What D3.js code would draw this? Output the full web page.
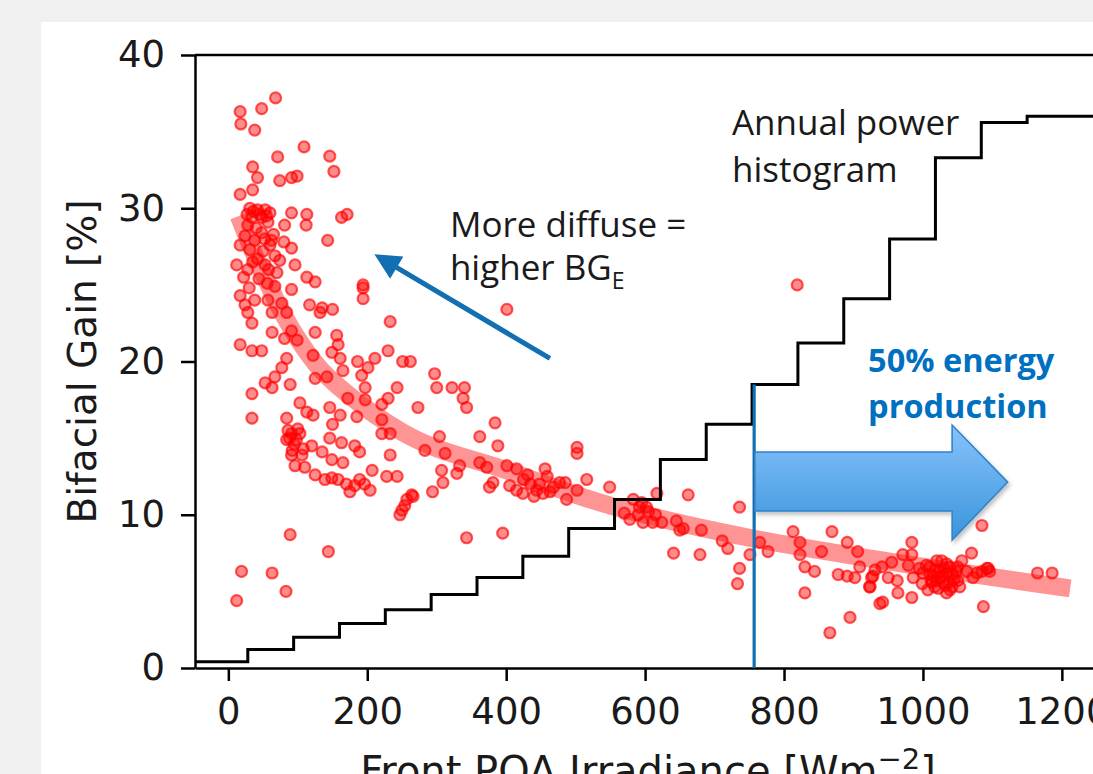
<!DOCTYPE html>
<html><head><meta charset="utf-8">
<script src="https://cdn.jsdelivr.net/npm/d3@7"></script>
<style>body{margin:0;background:#f0f0f0;}svg{display:block;}</style>
</head><body>
<svg id="chart" width="1093" height="774"></svg>
<script>
// ---------------- DATA ----------------
const xTicks = [0, 200, 400, 600, 800, 1000, 1200];
const yTicks = [0, 10, 20, 30, 40];

// Scatter: [front POA irradiance (W/m2), bifacial gain (%)]
const scatterPoints = [
 [17,36.3],[48,36.5],[68,37.2],[18,35.5],[38,35.1],[109,34.0],[146,33.4],[71,33.35],[35,32.7],[152,32.4],[42,32.0],[74,31.8],[91,32.0],[99,32.1],[17,30.9],[35,31.2],
 [31,30.0],[42,29.9],[53,29.9],[60,29.7],[34,29.4],[48,29.4],[28,28.9],[57,29.1],[36,29.8],[45,29.6],[55,29.5],
 [91,29.7],[113,29.6],[81,28.9],[112,28.9],[163,29.4],[171,29.6],[143,27.9],[91,27.4],[12,26.3],[28,26.0],[53,26.3],[96,26.3],[113,25.5],[125,25.2],[194,25.0],
 [24,28.2],[38,27.9],[48,28.4],[31,27.3],[42,26.7],[60,27.6],[67,26.9],[17,27.6],[74,26.6],[52,28.0],[65,28.3],[35,26.5],[22,25.5],[80,27.8],[58,26.0],
 [27,29.6],[40,28.7],[50,27.2],[44,25.4],[30,24.8],[56,25.1],[38,24.0],[70,25.8],[62,27.9],
 [17,24.3],[24,23.7],[28,23.2],[34,22.5],[57,24.0],[67,24.9],[77,23.8],[84,23.2],[91,24.7],[63,23.2],[117,23.7],[135,23.5],[150,23.4],[132,23.2],[194,24.8],[194,24.1],[233,22.6],[63,21.9],[91,22.0],[99,21.4],[81,21.5],[125,21.9],[156,21.7],[158,21.1],[149,20.6],[17,21.1],[34,20.7],[48,20.7],[84,20.2],[122,20.4],[161,20.2],[186,20.0],[211,20.2],[230,20.7],[251,20.0],[77,19.6],[67,19.0],[53,18.6],[63,18.3],[34,17.9],[89,18.5],[125,18.9],[142,19.0],[165,19.4],[192,19.1],[201,19.6],[197,18.3],[243,18.3],[172,17.6],[197,17.5],[221,17.2],[230,17.6],[146,17.0],[161,16.5],[103,17.3],[113,16.7],[122,16.5],[84,16.3],[34,16.3],[185,16.4],[221,16.2],[150,15.9],[91,15.3],[103,15.3],[84,14.9],[221,15.3],[233,15.3],[146,15.0],[120,14.5],[163,14.7],[182,14.5],[189,14.1],[91,13.9],[106,13.9],[135,14.1],[149,13.6],[165,13.4],[233,13.9],[96,13.2],[110,13.1],[125,12.6],[139,12.3],[149,12.4],[158,12.3],[175,11.5],[189,12.3],[207,12.9],[204,11.6],[228,12.5],[243,12.5],[250,10.3],[257,11.0],[264,11.3],
 [88,15.0],[95,14.6],[100,15.6],[92,14.2],[98,14.9],[86,15.5],[108,14.3],[170,12.0],[182,11.9],[196,12.0],
 [401,23.4],[297,19.2],[300,18.3],[322,18.3],[340,18.3],[338,17.6],[343,17.0],[273,17.0],[384,16.0],[362,15.1],[388,14.5],[304,15.1],[283,14.2],[312,14.0],[333,13.2],[307,12.9],[329,12.7],[362,13.4],[372,13.1],[401,13.2],[415,13.0],[431,12.6],[456,13.0],[459,12.5],[502,14.4],[502,14.0],[485,12.1],[516,12.3],[549,11.8],[381,12.1],[376,11.8],[424,11.4],[444,11.6],[453,11.4],[463,11.5],[477,12.1],[487,11.0],[502,11.6],[309,12.1],[294,11.5],[266,11.2],[343,8.5],[395,8.8],[578,9.7],[592,10.5],[597,9.5],[262,20.0],
 [583,11.0],[595,10.8],[605,10.2],[570,10.1],[615,10.0],[611,9.5],[624,9.5],[617,11.4],[602,10.5],[590,10.0],
 [405,11.9],[415,11.6],[435,12.0],[440,11.2],[448,12.0],[468,11.8],[425,12.3],
 [662,11.3],[650,9.0],[681,9.0],[641,7.5],[679,7.4],[736,10.5],[711,8.3],[719,7.8],[751,7.4],[736,6.5],[733,5.5],[765,8.2],[777,7.6],[813,8.9],[823,8.2],[823,7.4],[830,6.6],[844,6.3],[854,7.6],[869,8.9],[891,8.2],[906,7.6],[909,6.6],[878,6.1],[891,6.0],[902,5.9],[924,5.3],[830,4.9],[895,3.3],[866,2.3],[938,4.2],[928,6.0],[655,9.1],[645,9.6],
 [1085,9.3],[984,8.2],[1070,7.5],[923,5.3],[942,4.3],[984,4.6],[1087,4.0],[1165,6.2],[1186,6.2],[1094,6.5],[1085,6.3],[941,6.6],[955,6.9],[971,7.4],[979,6.7],[963,5.7],[950,5.9],[986,5.9],[995,6.5],[1005,6.7],[1010,6.1],[1017,5.3],[1024,6.3],[1029,5.6],[1034,6.8],[1039,5.1],[1034,4.9],[1043,6.1],[1050,6.6],[1056,7.0],[999,5.5],[1007,5.1],[1020,7.0],[1027,7.0],[1039,6.6],[1063,6.3],[1072,5.9],[1078,6.2],[1092,6.5],[1096,6.3],[1020,5.7],[1013,5.7],[1032,5.4],[964,4.9],[926,5.9],[931,6.4],[984,7.4],[1050,5.7],[1053,5.3],[1000,6.2],[1015,6.0],[1025,5.9],[1035,6.2],[1045,5.8],[1030,6.5],[1010,6.6],
 [1018,6.4],[1028,6.0],[1038,5.6],[1022,5.2],[1042,5.3],[1012,5.6],[1048,6.3],
 [89,8.7],[144,7.6],[19,6.3],[63,6.2],[83,5.0],[12,4.4],[247,10.0],[254,10.6],
 [819,25.0]
];

// Fitted trend (thick translucent band)
const fitIrradiance = [15, 42, 60, 80, 125, 182, 250, 400, 550, 600, 750, 930, 1212];
const fitGain       = [29.5, 26.5, 24.8, 23.0, 19.9, 17.5, 15.4, 12.9, 10.6, 10.0, 8.5, 7.1, 5.2];

// Annual power histogram (cumulative step), bin edges and levels on the same y scale
const histEdges  = [-48, 28, 94, 160, 226, 292, 358, 424, 490, 556, 622, 688, 754, 820, 886, 952, 1018, 1084, 1150, 1255];
const histLevels = [0.4, 1.2, 2.0, 2.9, 3.8, 4.8, 5.9, 7.3, 9.1, 11.0, 13.6, 15.9, 18.5, 21.2, 24.1, 28.0, 33.3, 35.6, 36.0];

// 50 % energy production marker
const halfEnergyX = 757;
const halfEnergyTop = 18.5;

// ---------------- LAYOUT ----------------
const W = 1093, H = 774;
const svg = d3.select("#chart");
svg.append("rect").attr("width", W).attr("height", H).attr("fill", "#f0f0f0");
svg.append("rect").attr("x", 41).attr("y", 22).attr("width", W - 41).attr("height", H - 22).attr("fill", "#ffffff");

const x = d3.scaleLinear().domain([-48, 1255]).range([195, 195 + 1303 * 0.6946]);
const y = d3.scaleLinear().domain([0, 40]).range([668, 55]);

const defs = svg.append("defs");
const grad = defs.append("linearGradient").attr("id", "arrowGrad").attr("x1", 0).attr("y1", 0).attr("x2", 0).attr("y2", 1);
grad.append("stop").attr("offset", "0%").attr("stop-color", "#86c3fb");
grad.append("stop").attr("offset", "100%").attr("stop-color", "#3a94dc");
const shadow = defs.append("filter").attr("id", "shadow").attr("x", "-10%").attr("y", "-10%").attr("width", "130%").attr("height", "130%");
shadow.append("feDropShadow").attr("dx", 2).attr("dy", 3).attr("stdDeviation", 2).attr("flood-color", "#000").attr("flood-opacity", 0.25);
defs.append("marker").attr("id", "blueHead").attr("viewBox", "0 0 10 10").attr("refX", 2).attr("refY", 5)
  .attr("markerWidth", 5.5).attr("markerHeight", 5.2).attr("markerUnits", "strokeWidth").attr("orient", "auto-start-reverse")
  .append("path").attr("d", "M0,0 L10,5 L0,10 Z").attr("fill", "#126fb2");

// fit band
const fitData = fitIrradiance.map((v, i) => [v, fitGain[i]]);
svg.append("path").datum(fitData)
  .attr("d", d3.line().x(d => x(d[0])).y(d => y(d[1])).curve(d3.curveMonotoneX))
  .attr("fill", "none").attr("stroke", "#ff0000").attr("stroke-opacity", 0.42).attr("stroke-width", 18);

// scatter
svg.append("g").selectAll("circle").data(scatterPoints).join("circle")
  .attr("cx", d => x(d[0])).attr("cy", d => y(d[1])).attr("r", 5.5)
  .attr("fill", "#ff0000").attr("fill-opacity", 0.45)
  .attr("stroke", "#ff0000").attr("stroke-opacity", 0.65).attr("stroke-width", 2.2);

// histogram step
const stepPts = [];
histLevels.forEach((lv, i) => { stepPts.push([histEdges[i], lv]); stepPts.push([histEdges[i + 1], lv]); });
svg.append("path").datum(stepPts)
  .attr("d", d3.line().x(d => x(d[0])).y(d => y(d[1])))
  .attr("fill", "none").attr("stroke", "#000").attr("stroke-width", 3).attr("stroke-linejoin", "miter");

// axes
const axisFont = "DejaVu Sans, sans-serif";
const gx = svg.append("g").attr("transform", `translate(0,${y(0)})`)
  .call(d3.axisBottom(x).tickValues(xTicks).tickFormat(d3.format("d")).tickSize(13).tickSizeOuter(0).tickPadding(17));
const gy = svg.append("g").attr("transform", `translate(${x(-48)},0)`)
  .call(d3.axisLeft(y).tickValues(yTicks).tickFormat(d3.format("d")).tickSize(14).tickSizeOuter(0).tickPadding(16));
[gx, gy].forEach(g => {
  g.select(".domain").attr("stroke", "#000").attr("stroke-width", 2.5);
  g.selectAll(".tick line").attr("stroke", "#000").attr("stroke-width", 2.5);
  g.selectAll(".tick text").attr("font-family", axisFont).attr("font-size", 37).attr("fill", "#1a1a1a");
});
svg.append("line").attr("x1", x(-48)).attr("x2", x(1255)).attr("y1", y(40)).attr("y2", y(40)).attr("stroke", "#000").attr("stroke-width", 2.5);

// axis titles
svg.append("text").attr("transform", `translate(96,${(y(0) + y(40)) / 2}) rotate(-90)`)
  .attr("text-anchor", "middle").attr("font-family", axisFont).attr("font-size", 39).attr("fill", "#1a1a1a")
  .text("Bifacial Gain [%]");
const xl = svg.append("text").attr("x", 648).attr("y", 785).attr("text-anchor", "middle")
  .attr("font-family", axisFont).attr("font-size", 40).attr("fill", "#1a1a1a");
xl.append("tspan").text("Front POA Irradiance [Wm");
xl.append("tspan").attr("dy", -16).attr("font-size", 29).text("\u22122");
xl.append("tspan").attr("dy", 16).text("]");

// 50% energy vertical line
svg.append("line").attr("x1", x(halfEnergyX)).attr("x2", x(halfEnergyX)).attr("y1", y(0)).attr("y2", y(halfEnergyTop))
  .attr("stroke", "#1270b4").attr("stroke-width", 3.2);

// block arrow (50% energy production)
const bx0 = x(758), bx1 = x(1042), btip = x(1122);
const by0 = y(14.1), by1 = y(10.25), hy0 = y(15.85), hy1 = y(8.35), ty = y(12.13);
svg.append("path")
  .attr("d", `M${bx0},${by0} L${bx1},${by0} L${bx1},${hy0} L${btip},${ty} L${bx1},${hy1} L${bx1},${by1} L${bx0},${by1} Z`)
  .attr("fill", "url(#arrowGrad)").attr("stroke", "#2f82c8").attr("stroke-width", 1.5).attr("filter", "url(#shadow)");

// diffuse arrow
svg.append("line").attr("x1", x(463)).attr("y1", y(20.2)).attr("x2", x(236)).attr("y2", y(26.3))
  .attr("stroke", "#126fb2").attr("stroke-width", 5).attr("marker-end", "url(#blueHead)");

// annotation texts
const annFont = "Open Sans, sans-serif";
svg.append("text").attr("x", x(725)).attr("y", y(34.8)).attr("font-family", annFont).attr("font-size", 35).attr("fill", "#1a1a1a").text("Annual power");
svg.append("text").attr("x", x(725)).attr("y", y(31.7)).attr("font-family", annFont).attr("font-size", 35).attr("fill", "#1a1a1a").text("histogram");
svg.append("text").attr("x", x(319)).attr("y", y(28.1)).attr("font-family", annFont).attr("font-size", 35).attr("fill", "#1a1a1a").text("More diffuse =");
const hb = svg.append("text").attr("x", x(319)).attr("y", y(25.3)).attr("font-family", annFont).attr("font-size", 35).attr("fill", "#1a1a1a");
hb.append("tspan").text("higher BG");
hb.append("tspan").attr("dy", 9).attr("font-size", 23).text("E");
svg.append("text").attr("x", x(921)).attr("y", y(19.3)).attr("font-family", annFont).attr("font-weight", "bold").attr("font-size", 32.5).attr("fill", "#0070c0").text("50% energy");
svg.append("text").attr("x", x(921)).attr("y", y(16.3)).attr("font-family", annFont).attr("font-weight", "bold").attr("font-size", 32.5).attr("fill", "#0070c0").text("production");
</script>
</body></html>
